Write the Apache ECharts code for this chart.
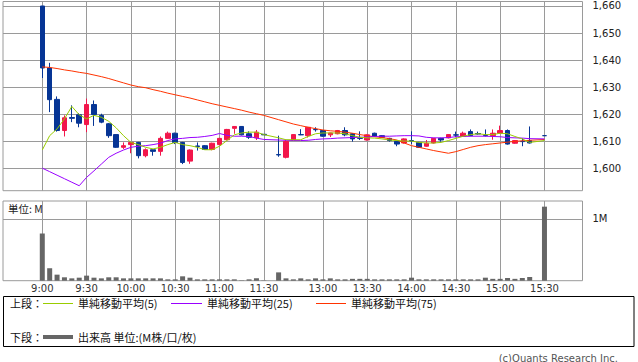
<!DOCTYPE html>
<html><head><meta charset="utf-8">
<script src="https://cdn.jsdelivr.net/npm/echarts@6/dist/echarts.min.js"></script>
<style>html,body{margin:0;padding:0;background:#fff}#c{width:638px;height:362px}</style>
</head><body><div id="c"></div>
<script>
// 5-minute slots (blank slots = lunch gap / pre-close)
const slotLabels = ['9:00','9:05','9:10','9:15','9:20','9:25','9:30','9:35','9:40','9:45','9:50','9:55',
 '10:00','10:05','10:10','10:15','10:20','10:25','10:30','10:35','10:40','10:45','10:50','10:55',
 '11:00','11:05','11:10','11:15','11:20','11:25','11:30','',
 '12:30','12:35','12:40','12:45','12:50','12:55','13:00','13:05','13:10','13:15','13:20','13:25',
 '13:30','13:35','13:40','13:45','13:50','13:55','14:00','14:05','14:10','14:15','14:20','14:25',
 '14:30','14:35','14:40','14:45','14:50','14:55','15:00','15:05','15:10','15:15','15:20','','15:30'];
const N = null;
const openP  = [1660,1637.1,1625.5,1614,1618.8,1619.8,1616.2,1623.6,1619.6,1616.5,1612.5,1607.8,
 1608.8,1609.6,1604.7,1606.9,1606.3,1611.1,1613,1609.6,1602.7,1608.3,1608.4,1607,
 1608.8,1610.6,1614.8,1615.5,1612.8,1611.3,1612.6,N,
 1605.1,1604.1,1610.6,1612.5,1612.1,1614.4,1614,1612.4,1612.8,1614,1612.8,1611.2,
 1610.5,1613,1612.1,1611.1,1610,1609.4,1610.3,1609.6,1608.2,1609.4,1611.1,1611.3,
 1612.4,1611.9,1613.6,1612.9,1612.2,1612.1,1613,1614,1609.3,1610,1610.3,N,1612.1];
const closeP = [1637.1,1625.4,1614,1618.7,1618.5,1616.7,1623.6,1619.9,1617.1,1612.1,1607.8,1608.4,
 1609.6,1604.7,1606.9,1606.3,1611.1,1613,1609.6,1602.2,1606.8,1608.1,1607,1609.3,
 1611.1,1614.4,1615.5,1612.4,1611.5,1613.4,1612.4,N,
 1605,1610,1612.5,1612.4,1615.2,1614.3,1611.9,1613.1,1614,1612.4,1610.9,1611.1,
 1612.4,1611.9,1611.5,1610.3,1609,1610.9,1610.2,1607.8,1609.3,1611.1,1610.5,1612.5,
 1612.3,1613,1612.1,1612.7,1612.1,1613,1614,1609,1610.3,1609.9,1609.4,N,1612.1];
const lowP   = [1633.4,1620.8,1613.6,1611.8,1617.1,1615.2,1613.4,1615.7,1616.7,1611.3,1607.6,1607.2,
 1605.6,1603.7,1604.1,1604.7,1604.7,1610.9,1609,1601.6,1601.7,1606.6,1606.9,1606.7,
 1608.6,1610.4,1612.8,1612.2,1610.9,1610.5,1612.4,N,
 1604.3,1603.7,1610.4,1612.3,1611.4,1613.6,1611.7,1611.6,1612.6,1611.9,1609.9,1610.5,
 1610.3,1611.7,1611.3,1609.9,1608.2,1609.2,1609,1607.6,1608,1609.2,1609.9,1611.1,
 1611.5,1611.7,1611.9,1612.5,1611.8,1610.6,1612.8,1608.8,1609.1,1608.2,1609.2,N,1612.1];
const highP  = [1660,1639,1626.6,1619.6,1623.3,1620.4,1625.8,1625.1,1620.2,1616.8,1612.6,1609.6,
 1609.7,1609.8,1607.4,1607,1611.8,1613.6,1613.2,1609.8,1607,1609.6,1608.6,1609.5,
 1611.3,1614.6,1615.6,1615.6,1613.7,1614.2,1612.6,N,
 1612.1,1610.5,1612.7,1614.5,1615.3,1615.2,1614.2,1613.2,1614.2,1615.2,1613,1613.7,
 1612.6,1613.2,1612.3,1611.3,1610.2,1611.1,1613.7,1609.8,1610.5,1611.3,1611.3,1612.7,
 1613.6,1613.6,1614.4,1613.6,1614.4,1614.4,1615.8,1614.4,1610.5,1611.1,1615.5,N,1612.1];
const ma5  = [1606.8,1612.1,1614.6,1618.3,1622.9,1619.8,1618.3,1619.6,1618.9,1617.4,1615,1612.1,
 1609.6,1608.8,1607.8,1607.2,1607.8,1608.8,1609.6,1608.8,1608.4,1607.8,1606.9,1606.9,
 1608.2,1610.3,1612.4,1613.1,1613.4,1613.4,1612.5,N,
 1611.3,1610.6,1610.6,1610.6,1611.8,1612.8,1613.1,1613.1,1613.1,1612.8,1612.1,1611.5,
 1611.3,1611.2,1610.9,1610.5,1610.3,1610.1,1610.1,1609.6,1609.4,1609.4,1609.6,1610.3,
 1611.1,1611.9,1612.5,1612.8,1612.5,1612.5,1613,1612.8,1611.8,1610.9,1609.6,N,1610.3];
const ma25 = [1600.1,1598.8,1597.5,1596.2,1594.9,1593.6,1596.7,1599.1,1601.6,1604.1,1605.6,1606.8,
 1607.8,1608.2,1608.4,1608.8,1609.3,1610.3,1610.9,1611.1,1611.4,1611.5,1611.8,1612.2,
 1612.9,1612.2,1611.9,1611.9,1611.8,1611.2,1610.7,N,
 1610.5,1610.4,1610.3,1610.3,1610.4,1610.7,1610.9,1611,1611.2,1611.3,1611.4,1611.5,
 1611.6,1611.8,1611.9,1611.9,1612,1612.1,1612.1,1612,1611.5,1611.3,1611.3,1611.4,
 1611.7,1611.8,1611.9,1611.9,1611.9,1611.8,1611.7,1611.4,1611.3,1611.2,1611,N,1610.9];
const ma75 = [1637.5,1637.3,1636.9,1636.4,1636,1635.5,1635.1,1634.5,1633.9,1633.2,1632.4,1631.6,
 1630.8,1630.2,1629.8,1629.1,1628.5,1627.8,1627.2,1626.6,1626,1625.3,1624.6,1623.9,
 1623.3,1622.7,1622.1,1621.5,1620.8,1620.2,1619.6,N,
 1618,1617.2,1616.4,1615.8,1615.2,1614.7,1614.2,1613.9,1613.7,1613.4,1613,1612.5,
 1612.1,1611.7,1611.4,1611,1610.5,1609.4,1608.4,1607.8,1607.2,1606.6,1606.1,1605.6,
 1606.2,1607,1607.8,1608.4,1608.8,1609.1,1609.4,1609.7,1610,1610.2,1610.4,N,1610.7];
// volume in millions
const volume = [0.765,0.202,0.098,0.055,0.038,0.049,0.082,0.049,0.038,0.055,0.055,0.038,
 0.038,0.038,0.038,0.038,0.038,0.022,0.022,0.071,0.049,0.022,0.022,0.022,
 0.022,0.022,0.022,0.006,0.022,0.038,0.005,N,
 0.135,0.038,0.022,0.038,0.022,0.038,0.022,0.038,0.022,0.022,0.03,0.03,
 0.03,0.022,0.022,0.022,0.022,0.022,0.049,0.022,0.022,0.022,0.022,0.022,
 0.022,0.022,0.022,0.022,0.049,0.03,0.03,0.044,0.03,0.044,0.06,N,1.2];
const timeTickLabels = ['9:00','9:30','10:00','10:30','11:00','11:30','13:00','13:30','14:00','14:30','15:00','15:30'];
const priceTicks = [1600,1610,1620,1630,1640,1650,1660];
const priceTickLabels = ['1,600','1,610','1,620','1,630','1,640','1,650','1,660'];
const volumeTicks = [1];
const volumeTickLabels = ['1M'];
const legendLabels = ['単純移動平均(5)','単純移動平均(25)','単純移動平均(75)'];

const timeTickSlots = timeTickLabels.map(t => slotLabels.indexOf(t));
const candleData = [], ma5Data = [], ma25Data = [], ma75Data = [], volData = [];
slotLabels.forEach((t, k) => {
  if (openP[k] != null) candleData.push([k, openP[k], closeP[k], lowP[k], highP[k]]);
  if (ma5[k] != null) ma5Data.push([k, ma5[k]]);
  if (ma25[k] != null) ma25Data.push([k, ma25[k]]);
  if (ma75[k] != null) ma75Data.push([k, ma75[k]]);
  if (volume[k] != null) volData.push([k, volume[k]]);
});

const RED = '#f2164b', BLUE = '#063595', GRID = '#9a9a9a';
const C_MA5 = '#99cc00', C_MA25 = '#9900ff', C_MA75 = '#ff3300';
const NUMF = 'DejaVu Sans', JPF = '"Noto Sans CJK JP", sans-serif';
const xMin = -5.32, xMax = 73.15;

const chart = echarts.init(document.getElementById('c'), null, {renderer: 'svg'});
const xCommon = (gi, showLabel) => ({
  type: 'value', gridIndex: gi, min: xMin, max: xMax,
  axisLine: {show: false},
  axisTick: {show: false, customValues: timeTickSlots},
  axisLabel: {show: showLabel, customValues: timeTickSlots, formatter: v => slotLabels[Math.round(v)],
    fontFamily: NUMF, fontSize: 10, color: '#333', margin: 3},
  splitLine: {show: true, lineStyle: {color: GRID, width: 1}}
});
const jp = '11px ' + JPF;
chart.setOption({
  animation: false,
  grid: [
    {left: 3, top: 1.5, width: 579.5, height: 189.2, show: true, borderColor: GRID, borderWidth: 1},
    {left: 3, top: 201, width: 579.5, height: 79.7, show: true, borderColor: GRID, borderWidth: 1}
  ],
  xAxis: [xCommon(0, false), xCommon(1, true)],
  yAxis: [
    {type: 'value', gridIndex: 0, position: 'right', min: 1591.77, max: 1661.66,
     axisLine: {show: false},
     axisTick: {show: true, length: 6, customValues: priceTicks, lineStyle: {color: GRID}},
     axisLabel: {customValues: priceTicks, formatter: v => priceTickLabels[priceTicks.indexOf(v)],
       fontFamily: NUMF, fontSize: 10, color: '#222', margin: 10},
     splitLine: {show: true, lineStyle: {color: GRID, width: 1}}},
    {type: 'value', gridIndex: 1, position: 'right', min: 0, max: 1.2917,
     axisLine: {show: false},
     axisTick: {show: true, length: 6, customValues: volumeTicks, lineStyle: {color: GRID}},
     axisLabel: {customValues: volumeTicks, formatter: v => volumeTickLabels[volumeTicks.indexOf(v)],
       fontFamily: NUMF, fontSize: 10, color: '#222', margin: 10},
     splitLine: {show: true, lineStyle: {color: GRID, width: 1}}}
  ],
  series: [
    {type: 'candlestick', xAxisIndex: 0, yAxisIndex: 0, data: candleData,
     dimensions: ['slot', 'open', 'close', 'lowest', 'highest'],
     encode: {x: 0, y: [1, 2, 3, 4]}, barWidth: 5,
     itemStyle: {color: RED, color0: BLUE, borderColor: RED, borderColor0: BLUE, borderColorDoji: BLUE, borderWidth: 1}},
    {type: 'line', xAxisIndex: 0, yAxisIndex: 0, data: ma75Data, symbol: 'none', lineStyle: {color: C_MA75, width: 1}},
    {type: 'line', xAxisIndex: 0, yAxisIndex: 0, data: ma25Data, symbol: 'none', lineStyle: {color: C_MA25, width: 1}},
    {type: 'line', xAxisIndex: 0, yAxisIndex: 0, data: ma5Data, symbol: 'none', lineStyle: {color: C_MA5, width: 1}},
    {type: 'bar', xAxisIndex: 1, yAxisIndex: 1, data: volData, barWidth: 5, itemStyle: {color: '#666'}}
  ],
  graphic: [
    {type: 'text', left: 8, top: 203, style: {text: '単位: M', font: '10.5px ' + JPF, fill: '#222'}},
    {type: 'rect', shape: {x: 3.5, y: 296.5, width: 630.5, height: 50}, style: {fill: 'none', stroke: '#000', lineWidth: 1}},
    {type: 'text', x: 10, y: 303, style: {text: '上段：', font: jp, fill: '#111', verticalAlign: 'middle'}},
    {type: 'line', shape: {x1: 43, y1: 303.5, x2: 73, y2: 303.5}, style: {stroke: C_MA5, lineWidth: 1}},
    {type: 'text', x: 78, y: 303, style: {text: legendLabels[0], font: jp, fill: '#111', verticalAlign: 'middle'}},
    {type: 'line', shape: {x1: 171, y1: 303.5, x2: 202, y2: 303.5}, style: {stroke: C_MA25, lineWidth: 1}},
    {type: 'text', x: 207, y: 303, style: {text: legendLabels[1], font: jp, fill: '#111', verticalAlign: 'middle'}},
    {type: 'line', shape: {x1: 316, y1: 303.5, x2: 346, y2: 303.5}, style: {stroke: C_MA75, lineWidth: 1}},
    {type: 'text', x: 351, y: 303, style: {text: legendLabels[2], font: jp, fill: '#111', verticalAlign: 'middle'}},
    {type: 'text', x: 10, y: 337, style: {text: '下段：', font: jp, fill: '#111', verticalAlign: 'middle'}},
    {type: 'line', shape: {x1: 43, y1: 337, x2: 73, y2: 337}, style: {stroke: '#666', lineWidth: 4}},
    {type: 'text', x: 78, y: 337, style: {text: '出来高 単位:(M株/口/枚)', font: jp, fill: '#111', verticalAlign: 'middle'}},
    {type: 'text', x: 618, y: 358, style: {text: '(c)Quants Research Inc.', font: '10px ' + NUMF, fill: '#555', align: 'right', verticalAlign: 'middle'}}
  ]
});
</script></body></html>
